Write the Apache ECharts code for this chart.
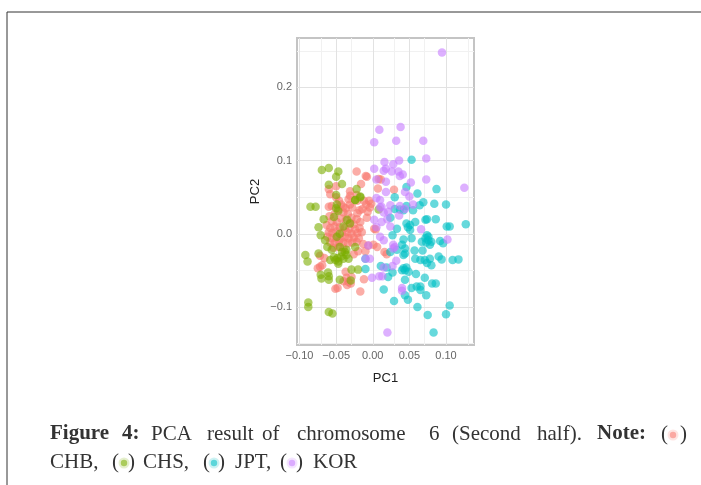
<!DOCTYPE html>
<html><head><meta charset="utf-8">
<style>html,body{margin:0;padding:0;background:#fff}#c{width:701px;height:485px;filter:blur(0.45px)}</style>
<script src="https://cdn.jsdelivr.net/npm/echarts@6/dist/echarts.min.js"></script>
</head><body><div id="c"></div>
<script>
const seriesNames = ['CHB','CHS','JPT','KOR'];
const seriesColors = ['#F8766D','#7CAE00','#00BFC4','#C77CFF'];
const CHB = [[-.022,.085],[-.0095,.079],[-.008,.078],[-.016,.068],[-.05,.065],[-.06,.061],[-.058,.054],[-.031,.058],[-.031,.052],[-.022,.053],[-.033,.047],[-.012,.045],[-.005,.045],[-.021,.045],[-.06,.037],[-.04,.037],[-.031,.04],
[.008,.075],[.011,.074],[.007,.062],[.029,.060],[-.004,.036],[-.009,.040],[-.002,.041],[-.007,.03],
[-.05,.05],[-.046,.045],[-.043,.04],[-.056,.038],[-.047,.033],[-.037,.035],[-.028,.036],[-.018,.032],[-.021,.028],[-.014,.034],[-.04,.029],[-.034,.027],[-.052,.027],[-.059,.024],[-.029,.022],[-.022,.02],[-.043,.021],[-.037,.018],[-.056,.017],[-.049,.016],[-.031,.015],[-.026,.013],[-.017,.016],[-.008,.022],[-.063,.012],[-.058,.008],[-.052,.01],[-.045,.009],[-.038,.008],[-.032,.007],[-.024,.006],[-.018,.008],[.002,.007],[.004,.006],[-.06,.002],[-.055,.001],[-.049,.003],[-.042,.001],[-.035,.002],[-.029,0],[-.021,.001],[-.015,.002],[-.062,-.004],[-.056,-.006],[-.05,-.005],[-.044,-.007],[-.038,-.004],[-.033,-.006],[-.026,-.005],[-.019,-.006],[-.058,-.012],[-.052,-.013],[-.046,-.011],[-.04,-.012],[-.034,-.013],[-.028,-.012],[-.022,-.011],[-.054,-.019],[-.047,-.018],[-.04,-.02],[-.013,-.014],[-.006,-.016],[.001,-.015],[.006,-.018],[-.02,-.024],[-.01,-.024],[-.026,-.028],[.016,-.025],[.019,-.028],[-.072,-.03],[-.066,-.033],[-.069,-.043],[-.072,-.045],[-.075,-.047],[-.037,-.052],[-.036,-.06],[-.029,-.059],[-.04,-.065],[-.033,-.066],[-.012,-.062],[-.035,-.07],[-.051,-.075],[-.048,-.074],[-.017,-.079],[-.03,-.068]];
const CHS = [[-.0695,.087],[-.06,.090],[-.047,.085],[-.05,.078],[-.06,.067],[-.042,.068],[-.022,.061],[-.05,.053],[-.017,.051],[-.024,.046],[-.085,.037],[-.078,.037],[-.049,.04],[-.05,.035],[-.047,.031],[-.053,.023],[-.067,.02],[-.074,.009],[-.071,-.002],[-.065,-.009],[-.062,-.018],[-.056,-.022],[-.045,-.018],[-.036,-.022],[-.024,-.018],[-.036,-.029],[-.04,-.034],[-.047,-.038],[-.051,-.036],[-.058,-.036],[-.047,-.041],[-.033,-.034],[-.092,-.029],[-.089,-.038],[-.074,-.027],[-.061,-.053],[-.071,-.056],[-.07,-.061],[-.06,-.058],[-.06,-.063],[-.045,-.063],[-.03,-.064],[-.029,-.049],[-.02,-.049],[-.088,-.094],[-.088,-.1],[-.06,-.107],[-.055,-.109],[-.035,.019],[-.031,.014],[-.04,.01],[-.045,0],[-.049,-.004],[.008,.033],[-.024,.046],[-.017,.05],[-.042,-.025],[-.043,-.031],[-.048,-.033],[-.038,-.025],[-.053,-.032]];
const JPT = [[.053,.101],[.046,.064],[.087,.061],[.030,.050],[.061,.055],[.069,.043],[.084,.041],[.1,.040],[.064,.039],[.046,.038],[.03,.034],[.037,.033],[.055,.032],[.042,.032],[.024,.022],[.074,.020],[.072,.019],[.086,.020],[.046,.014],[.051,.012],[.058,.016],[.048,.009],[.101,.010],[.105,.010],[.127,.013],[.033,.007],[.051,.005],[.027,-.002],[.053,-.006],[.042,-.008],[.04,-.015],[.044,-.02],[.074,-.002],[.076,-.009],[.078,-.015],[.067,-.011],[.072,-.006],[.08,-.011],[.073,-.012],[.076,-.004],[.092,-.01],[.096,-.013],[.057,-.023],[.068,-.023],[.024,-.025],[.033,-.022],[.042,-.029],[.044,-.027],[.09,-.031],[.094,-.035],[.109,-.036],[.117,-.035],[.058,-.034],[.065,-.036],[.071,-.036],[.078,-.034],[.08,-.043],[.074,-.04],[.042,-.047],[.044,-.05],[.049,-.052],[.04,-.05],[.046,-.046],[.011,-.044],[.019,-.046],[.027,-.053],[.021,-.059],[.044,-.063],[.059,-.055],[.071,-.06],[.081,-.068],[.086,-.068],[.053,-.074],[.06,-.072],[.065,-.072],[.073,-.084],[.065,-.077],[.015,-.076],[.044,-.084],[.048,-.09],[.029,-.092],[.061,-.1],[.075,-.111],[.1,-.11],[.105,-.098],[.083,-.135],[-.01,-.048],[-.01,-.034]];
const KOR = [[.0945,.2477],[.009,.142],[.038,.146],[.002,.125],[.032,.127],[.069,.127],[.073,.103],[.036,.100],[.016,.098],[.028,.095],[.002,.089],[.018,.089],[.015,.086],[.026,.085],[.035,.085],[.041,.081],[.037,.079],[.005,.074],[.073,.074],[.018,.071],[.052,.070],[.125,.063],[.018,.057],[.044,.057],[.05,.051],[.005,.049],[.055,.04],[.01,.046],[.012,.037],[.024,.039],[.037,.038],[.01,.036],[.015,.029],[.002,.019],[.012,.016],[.024,.010],[.021,.03],[.044,.034],[.066,.006],[.01,-.004],[.015,-.009],[.028,-.015],[.03,-.018],[.102,-.008],[-.01,-.034],[-.004,-.034],[.032,-.037],[.027,-.044],[-.001,-.06],[.009,-.058],[.04,-.074],[.04,-.078],[.020,-.135],[.015,-.046],[-.006,-.016],[.005,.009],[.028,-.02],[.013,-.058],[.036,.025],[.02,.02]];
const xTicks = [-0.10,-0.05,0,0.05,0.10];
const xMinor = [-0.075,-0.025,0.025,0.075,0.125];
const yTicks = [-0.1,0,0.1,0.2];
const yMinor = [-0.15,-0.05,0.05,0.15,0.25];

const ink='#333', F='"Liberation Serif",serif', lineFs=21;
function t(x,y,text,bold){return {type:'text',style:{x,y,text,fill:ink,font:(bold?'bold ':'')+lineFs+'px '+F,textVerticalAlign:'middle'},silent:true};}
function dot(x,y,i){return [
 {type:'circle',shape:{cx:x,cy:y,r:5.5},style:{fill:seriesColors[i],opacity:.2},silent:true},
 {type:'circle',shape:{cx:x,cy:y,r:3.2},style:{fill:seriesColors[i],opacity:.55},silent:true}];}
const L1=434, L2=462;
const graphic=[
 {type:'line',shape:{x1:7,y1:12,x2:701,y2:12},style:{stroke:'#333',lineWidth:1},silent:true},
 {type:'line',shape:{x1:7,y1:12,x2:7,y2:485},style:{stroke:'#333',lineWidth:1},silent:true},
 t(50,L1,'Figure',true),t(122,L1,'4:',true),t(151,L1,'PCA'),t(207,L1,'result'),t(262,L1,'of'),t(297,L1,'chromosome'),t(429,L1,'6'),t(452,L1,'(Second'),t(537,L1,'half).'),t(597,L1,'Note:',true),
 t(661,L1,'('),...dot(673,L1+1,0),t(680,L1,')'),
 t(50,L2,'CHB,'),t(112,L2,'('),...dot(124,L2+1,1),t(128,L2,')'),t(143,L2,'CHS,'),t(203,L2,'('),...dot(214,L2+1,2),t(218,L2,')'),t(235,L2,'JPT,'),t(280,L2,'('),...dot(292,L2+1,3),t(296,L2,')'),t(313,L2,'KOR')
];
const AF='"Liberation Sans",Arial,sans-serif';
const fx=n=>v=>v.toFixed(n).replace('-','\u2212');
const axisCommon={axisLine:{show:false},splitLine:{show:false},minorSplitLine:{show:false},
 nameTextStyle:{color:'#222',fontSize:13,fontFamily:AF},nameLocation:'middle'};
const tick=vals=>({show:true,customValues:vals,length:3,lineStyle:{color:'#999',width:1}});
const label=(vals,n)=>({customValues:vals,color:'#666',fontSize:11,fontFamily:AF,margin:5,formatter:fx(n)});
const gridSeries=(axis,vals,color)=>({type:'scatter',data:[],z:1,silent:true,
 markLine:{z:1,silent:true,symbol:'none',animation:false,label:{show:false},lineStyle:{type:'solid',color,width:1},
  data:vals.map(v=>({[axis]:v}))}});
const chart=echarts.init(document.getElementById('c'),null,{renderer:'canvas'});
chart.setOption({animation:false,backgroundColor:'#fff',
 grid:{left:297,top:38,width:177,height:307,show:true,borderColor:'#c4c4c4',borderWidth:2,backgroundColor:'#fff'},
 xAxis:{type:'value',name:'PC1',nameGap:27,min:-0.1034,max:0.1382,...axisCommon,axisTick:tick(xTicks),axisLabel:label(xTicks,2)},
 yAxis:{type:'value',name:'PC2',nameGap:35,min:-0.152,max:0.2675,...axisCommon,axisTick:tick(yTicks),axisLabel:label(yTicks,1)},
 series:[
  gridSeries('xAxis',xMinor,'#f1f1f1'),gridSeries('yAxis',yMinor,'#f1f1f1'),
  gridSeries('xAxis',xTicks,'#e2e2e2'),gridSeries('yAxis',yTicks,'#e2e2e2'),
  ...[CHB,CHS,JPT,KOR].map((d,i)=>({name:seriesNames[i],type:'scatter',z:3,data:d,symbolSize:8.5,
   itemStyle:{color:seriesColors[i],opacity:.6,borderWidth:0}}))],
 graphic
});
</script></body></html>
